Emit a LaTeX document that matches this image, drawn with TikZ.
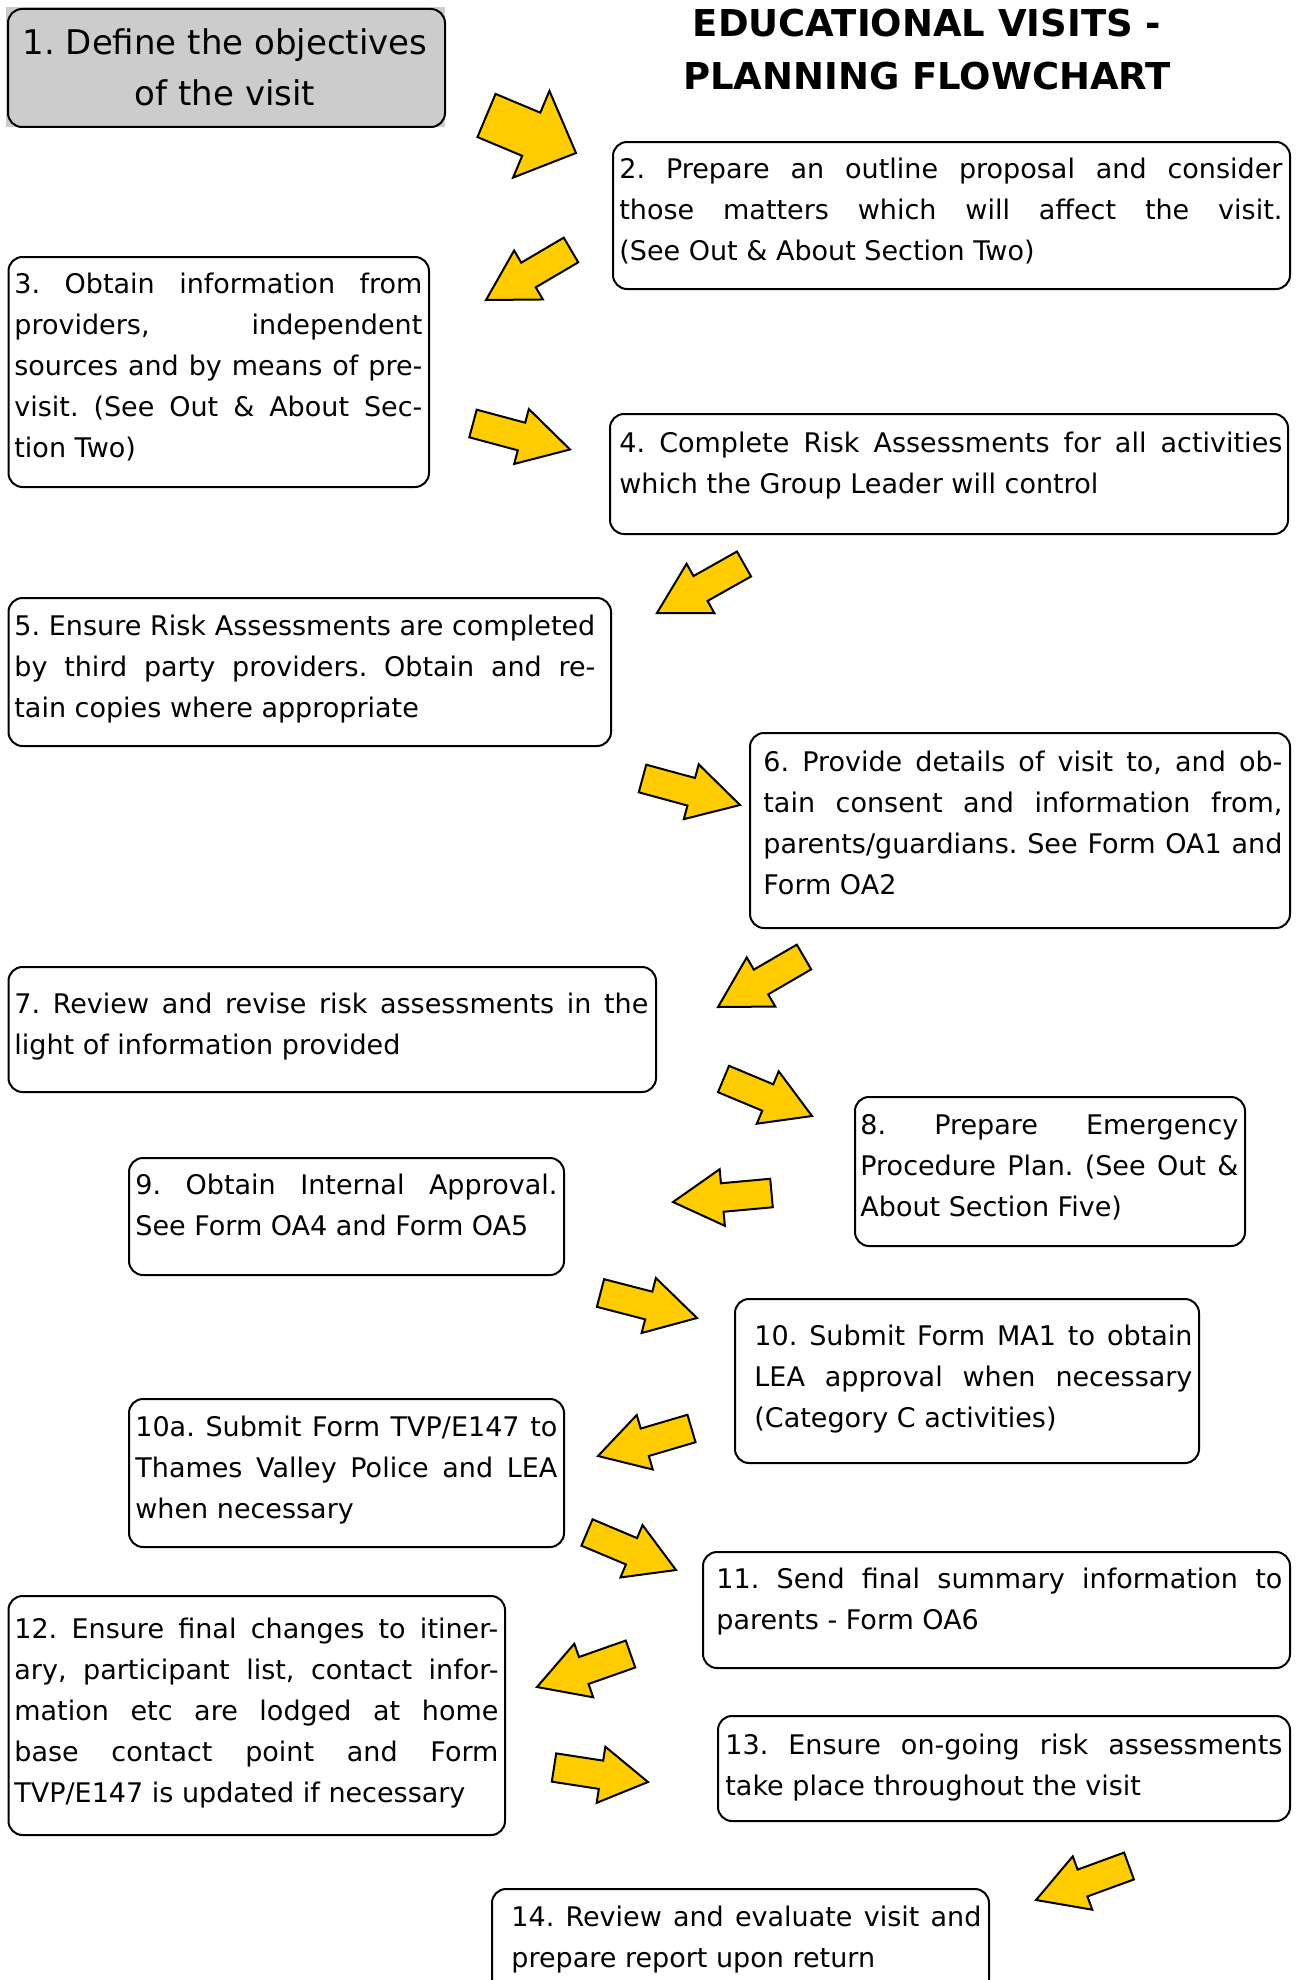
\documentclass[tikz,border=0pt]{standalone}
\usepackage{fontspec}
\setmainfont{DejaVu Sans}
\usetikzlibrary{calc}

\definecolor{stepgray}{HTML}{CCCCCC}
\definecolor{arrowyellow}{HTML}{FFCC00}

\tolerance=10000
\hyphenpenalty=10000
\frenchspacing

\tikzset{
  stepbox/.style={draw, line width=1pt, rounded corners=7pt, anchor=north west, inner sep=0pt},
  steptext/.style={anchor=north west, inner sep=0pt, align=justify, font=\fontsize{13.5}{20.5}\selectfont},
  bigarrow/.style={draw, fill=arrowyellow, line width=1pt}
}

% block arrow from tail #1 to tip #2, shaft half width #3, head half width #4
\newcommand\flowarrow[4]{%
  \coordinate (fa-m) at ($(#1)!0.5!(#2)$);
  \draw[bigarrow] ($(#1)!#3!90:(#2)$) -- ($(fa-m)!#3!-90:(#1)$) -- ($(fa-m)!#4!-90:(#1)$)
    -- (#2) -- ($(fa-m)!#4!90:(#1)$) -- ($(fa-m)!#3!90:(#1)$) -- ($(#1)!#3!-90:(#2)$) -- cycle;}

\newcommand\fs{\rule{0pt}{18.75pt}}

\begin{document}
\begin{tikzpicture}[x=0.5pt, y=-0.5pt]
  \useasboundingbox (0,0) rectangle (1297,1980);

  % title
  \node[align=center, font=\fontsize{18.5}{26.5}\selectfont\bfseries] (title) at (927,50)
    {EDUCATIONAL VISITS -\\PLANNING FLOWCHART};

  % step 1
  \fill[stepgray] (6,7) rectangle (445,127);
  \node[stepbox, minimum width=218.5pt, minimum height=59pt] (s1) at (7,8) {};
  \node[align=center, font=\fontsize{17}{25.5}\selectfont] (t1) at (225,67)
    {1. Define the objectives\\of the visit};

  % boxes
  \node[stepbox, minimum width=338.5pt, minimum height=73.5pt] (s2) at (612,141) {};
  \node[stepbox, minimum width=210.25pt, minimum height=115pt] (s3) at (7.5,256) {};
  \node[stepbox, minimum width=339pt, minimum height=60pt] (s4) at (609,413) {};
  \node[stepbox, minimum width=301.25pt, minimum height=74pt] (s5) at (7.5,597) {};
  \node[stepbox, minimum width=270pt, minimum height=97.5pt] (s6) at (749,732) {};
  \node[stepbox, minimum width=323.75pt, minimum height=62.5pt] (s7) at (7.5,966) {};
  \node[stepbox, minimum width=195pt, minimum height=74.5pt] (s8) at (854,1096) {};
  \node[stepbox, minimum width=217.5pt, minimum height=58.5pt] (s9) at (128,1157) {};
  \node[stepbox, minimum width=232pt, minimum height=82pt] (s10) at (734,1298) {};
  \node[stepbox, minimum width=217.5pt, minimum height=74pt] (s10a) at (128,1398) {};
  \node[stepbox, minimum width=293.5pt, minimum height=58pt] (s11) at (702,1551) {};
  \node[stepbox, minimum width=248.25pt, minimum height=119.5pt] (s12) at (7.5,1595) {};
  \node[stepbox, minimum width=286pt, minimum height=52.5pt] (s13) at (717,1715) {};
  \node[stepbox, minimum width=248.5pt, minimum height=76pt] (s14) at (491,1888) {};

  % texts
  \node[steptext, text width=331.5pt] (t2) at (619,141) {\fs 2. Prepare an outline proposal and consider\linebreak those matters which will affect the visit.\linebreak (See Out \& About Section Two)};
  \node[steptext, text width=204pt] (t3) at (14,256) {\fs 3. Obtain information from\linebreak providers, independent\linebreak sources and by means of pre-\linebreak visit. (See Out \& About Sec-\linebreak tion Two)};
  \node[steptext, text width=331.5pt] (t4) at (619,415) {\fs 4. Complete Risk Assessments for all activities\linebreak which the Group Leader will control};
  \node[steptext, text width=290.5pt] (t5) at (14,598) {\fs 5. Ensure Risk Assessments are completed\linebreak by third party providers. Obtain and re-\linebreak tain copies where appropriate};
  \node[steptext, text width=259.5pt] (t6) at (763,733.5) {\fs 6. Provide details of visit to, and ob-\linebreak tain consent and information from,\linebreak parents/guardians. See Form OA1 and\linebreak Form OA2};
  \node[steptext, text width=317pt] (t7) at (14,976) {\fs 7. Review and revise risk assessments in the\linebreak light of information provided};
  \node[steptext, text width=189pt] (t8) at (860,1097) {\fs 8. Prepare Emergency\linebreak Procedure Plan. (See Out \&\linebreak About Section Five)};
  \node[steptext, text width=211pt] (t9) at (135,1157) {\fs 9. Obtain Internal Approval.\linebreak See Form OA4 and Form OA5};
  \node[steptext, text width=219pt] (t10) at (754,1308) {\fs 10. Submit Form MA1 to obtain\linebreak LEA approval when necessary\linebreak (Category C activities)};
  \node[steptext, text width=211pt] (t10a) at (135,1399) {\fs 10a. Submit Form TVP/E147 to\linebreak Thames Valley Police and LEA\linebreak when necessary};
  \node[steptext, text width=283pt] (t11) at (716,1551) {\fs 11. Send final summary information to\linebreak parents - Form OA6};
  \node[steptext, text width=242pt] (t12) at (14,1601) {\fs 12. Ensure final changes to itiner-\linebreak ary, participant list, contact infor-\linebreak mation etc are lodged at home\linebreak base contact point and Form\linebreak TVP/E147 is updated if necessary};
  \node[steptext, text width=278.5pt] (t13) at (725,1717) {\fs 13. Ensure on-going risk assessments\linebreak take place throughout the visit};
  \node[steptext, text width=235pt] (t14) at (511,1889) {\fs 14. Review and evaluate visit and\linebreak prepare report upon return};

  % arrow ends
  \coordinate (a1t) at (486.5,115.5);  \coordinate (a1h) at (576,153);
  \coordinate (a2t) at (571,250);      \coordinate (a2h) at (486,300);
  \coordinate (a3t) at (473,423.5);    \coordinate (a3h) at (570,449.5);
  \coordinate (a4t) at (744,564);      \coordinate (a4h) at (657,613);
  \coordinate (a5t) at (642.5,778.5);  \coordinate (a5h) at (740,805);
  \coordinate (a6t) at (804,957);      \coordinate (a6h) at (718,1007);
  \coordinate (a7t) at (723.5,1079);   \coordinate (a7h) at (812,1116);
  \coordinate (a8t) at (771.5,1193);   \coordinate (a8h) at (673,1202);
  \coordinate (a9t) at (600.5,1293);   \coordinate (a9h) at (697,1318);
  \coordinate (a10t) at (691.5,1428.5); \coordinate (a10h) at (598,1456);
  \coordinate (a11t) at (587,1532.5);  \coordinate (a11h) at (676,1570);
  \coordinate (a12t) at (630.5,1654);  \coordinate (a12h) at (537,1687);
  \coordinate (a13t) at (554,1767.5);  \coordinate (a13h) at (648,1782);
  \coordinate (a14t) at (1129,1866);   \coordinate (a14h) at (1036,1900);

  % arrows
  \flowarrow{a1t}{a1h}{11.7pt}{23.5pt}
  \flowarrow{a2t}{a2h}{7.15pt}{14.2pt}
  \flowarrow{a3t}{a3h}{7.15pt}{14.2pt}
  \flowarrow{a4t}{a4h}{7.15pt}{14.2pt}
  \flowarrow{a5t}{a5h}{7.15pt}{14.2pt}
  \flowarrow{a6t}{a6h}{7.15pt}{14.2pt}
  \flowarrow{a7t}{a7h}{7.15pt}{14.2pt}
  \flowarrow{a8t}{a8h}{7.15pt}{14.2pt}
  \flowarrow{a9t}{a9h}{7.15pt}{14.2pt}
  \flowarrow{a10t}{a10h}{7.15pt}{14.2pt}
  \flowarrow{a11t}{a11h}{7.15pt}{14.2pt}
  \flowarrow{a12t}{a12h}{7.15pt}{14.2pt}
  \flowarrow{a13t}{a13h}{7.15pt}{14.2pt}
  \flowarrow{a14t}{a14h}{7.15pt}{14.2pt}
\end{tikzpicture}
\end{document}
